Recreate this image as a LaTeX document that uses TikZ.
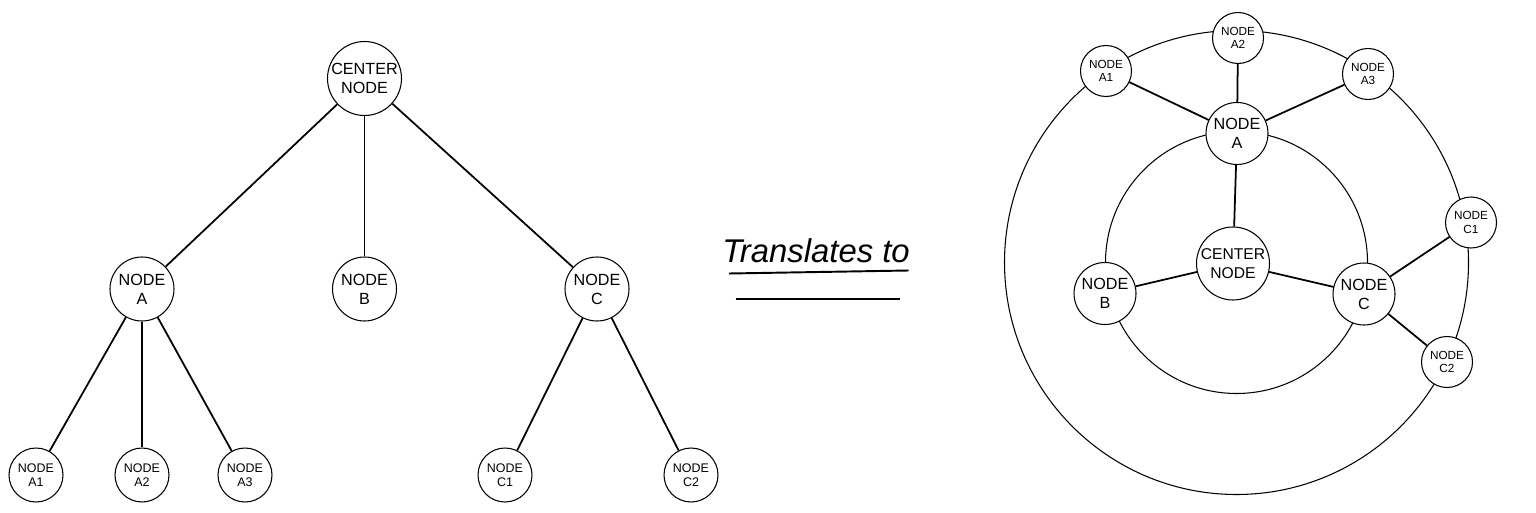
\documentclass[tikz,border=0pt]{standalone}
\usepackage{fontspec}
\setmainfont{Liberation Sans}
\usetikzlibrary{positioning}
\begin{document}
\begin{tikzpicture}
        \tikzstyle{big} = [circle, draw=black, line width=0.6pt, fill=white, inner sep=0pt, minimum size=1.28cm, align=center, font=\fontsize{9.2}{10.8}\selectfont, node distance=4.21cm]
        \tikzstyle{small} = [circle, draw=black, line width=0.6pt, fill=white, inner sep=0pt, minimum size=1.08cm, align=center, font=\fontsize{7.1}{8.1}\selectfont, node distance=3.72cm]
        \tikzstyle{rsmall} = [small, minimum size=1.02cm, font=\fontsize{6.7}{7.6}\selectfont]
        \tikzstyle{edge} = [line width=1pt]
        \tikzstyle{orbit} = [line width=0.6pt]

        \useasboundingbox (0,0) rectangle (30.72,10.24);

        \node (root) [big, minimum size=1.48cm] at (7.29,8.67) {CENTER\\NODE};
        \node (a) [big, below of=root, xshift=-4.45cm] {NODE\\A};
        \node (b) [big, below of=root] {NODE\\B};
        \node (c) [big, below of=root, xshift=4.65cm] {NODE\\C};
        \node (a1) [small, below of=a, xshift=-2.12cm] {NODE\\A1};
        \node (a2) [small, below of=a] {NODE\\A2};
        \node (a3) [small, below of=a, xshift=2.06cm] {NODE\\A3};
        \node (c1) [small, below of=c, xshift=-1.84cm] {NODE\\C1};
        \node (c2) [small, below of=c, xshift=1.88cm] {NODE\\C2};

        \draw[edge] (root) -- (a);
        \draw[edge] (root) -- (b);
        \draw[edge] (root) -- (c);
        \draw[edge] (a) -- (a1);
        \draw[edge] (a) -- (a2);
        \draw[edge] (a) -- (a3);
        \draw[edge] (c) -- (c1);
        \draw[edge] (c) -- (c2);

        \node (trans) [anchor=base, font=\fontsize{18.7}{22}\selectfont\itshape] at (16.32,5.0) {Translates to};
        \coordinate (u1) at (14.58,4.77);
        \coordinate (u2) at (18.17,4.83);
        \coordinate (v1) at (14.71,4.26);
        \coordinate (v2) at (18.0,4.26);
        \draw[line width=1.1pt] (u1) -- (u2);
        \draw[line width=1.1pt] (v1) -- (v2);

        \coordinate (hub) at (24.73,4.99);
        \draw[orbit] (hub) circle (4.64);
        \draw[orbit] (hub) circle (2.62);

        \node (rroot) [big, minimum size=1.46cm, font=\fontsize{8.9}{10.6}\selectfont] at (24.66,4.97) {CENTER\\NODE};
        \node (ra) [big, minimum size=1.24cm] at (24.74,7.57) {NODE\\A};
        \node (rb) [big, minimum size=1.24cm] at (22.10,4.37) {NODE\\B};
        \node (rc) [big, minimum size=1.24cm] at (27.28,4.36) {NODE\\C};
        \node (ra1) [rsmall] at (22.12,8.82) {NODE\\A1};
        \node (ra2) [rsmall] at (24.76,9.48) {NODE\\A2};
        \node (ra3) [rsmall] at (27.36,8.76) {NODE\\A3};
        \node (rc1) [rsmall] at (29.42,5.79) {NODE\\C1};
        \node (rc2) [rsmall] at (28.94,3.00) {NODE\\C2};

        \draw[edge] (rroot) -- (ra);
        \draw[edge] (rroot) -- (rb);
        \draw[edge] (rroot) -- (rc);
        \draw[edge] (ra) -- (ra1);
        \draw[edge] (ra) -- (ra2);
        \draw[edge] (ra) -- (ra3);
        \draw[edge] (rc) -- (rc1);
        \draw[edge] (rc) -- (rc2);
\end{tikzpicture}
\end{document}
